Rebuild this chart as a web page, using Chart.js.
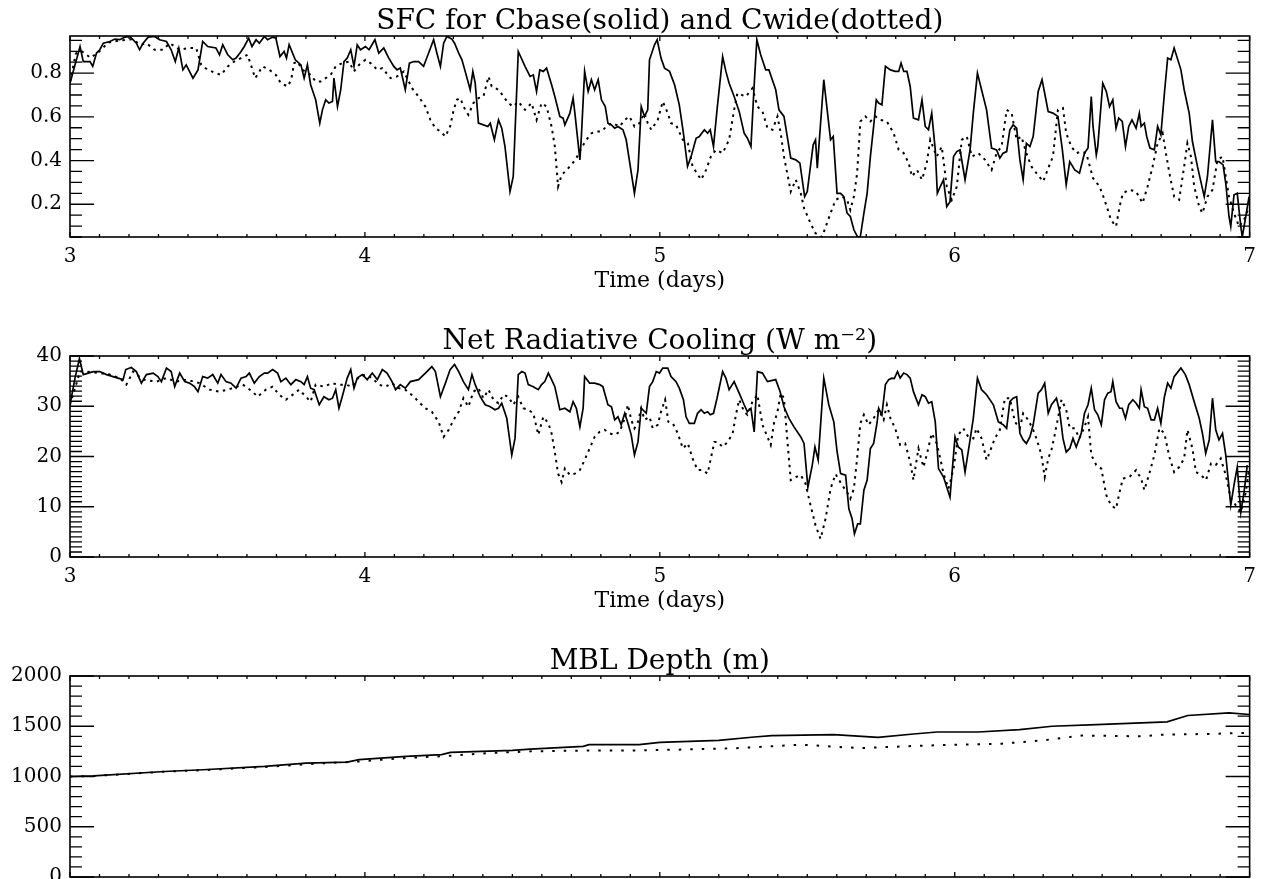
<!DOCTYPE html>
<html>
<head>
<meta charset="utf-8">
<script src="https://cdn.jsdelivr.net/npm/chart.js"></script>
<style>
  body { margin: 0; background: #fff; width: 1264px; height: 879px; overflow: hidden; position: relative; }
  canvas { position: absolute; left: 0; }
</style>
</head>
<body>
<canvas id="sfc" width="1264" height="320" style="top:0"></canvas>
<canvas id="cool" width="1264" height="320" style="top:320px"></canvas>
<canvas id="mbl" width="1264" height="320" style="top:640px"></canvas>
<script>
// tick labels
const timeTicks = [3, 4, 5, 6, 7];
const sfcTicks = [0.2, 0.4, 0.6, 0.8];
const coolTicks = [0, 10, 20, 30, 40];
const mblTicks = [0, 500, 1000, 1500, 2000];

// [time (days), value] pairs, Cbase run
const sfcCbase = [
  [3.000,0.754],[3.034,0.922],[3.045,0.853],[3.068,0.853],[3.077,0.831],[3.090,0.892],[3.101,0.907],[3.113,0.937],
  [3.135,0.945],[3.152,0.956],[3.169,0.953],[3.186,0.965],[3.203,0.968],[3.225,0.937],[3.236,0.907],[3.248,0.937],
  [3.265,0.965],[3.287,0.968],[3.304,0.953],[3.327,0.945],[3.343,0.907],[3.357,0.853],[3.369,0.915],[3.383,0.815],
  [3.394,0.838],[3.417,0.777],[3.434,0.815],[3.450,0.945],[3.467,0.922],[3.495,0.915],[3.507,0.884],[3.518,0.930],
  [3.535,0.884],[3.552,0.861],[3.563,0.869],[3.580,0.899],[3.591,0.922],[3.606,0.960],[3.617,0.922],[3.631,0.953],
  [3.642,0.937],[3.659,0.968],[3.670,0.953],[3.687,0.965],[3.698,0.960],[3.712,0.876],[3.726,0.899],[3.734,0.869],
  [3.743,0.930],[3.764,0.861],[3.783,0.838],[3.794,0.777],[3.805,0.838],[3.816,0.747],[3.833,0.678],[3.847,0.571],
  [3.856,0.632],[3.867,0.678],[3.878,0.663],[3.890,0.670],[3.895,0.777],[3.907,0.647],[3.918,0.724],[3.929,0.853],
  [3.940,0.869],[3.952,0.907],[3.963,0.831],[3.974,0.930],[3.985,0.907],[4.002,0.922],[4.014,0.907],[4.034,0.953],
  [4.047,0.892],[4.064,0.915],[4.081,0.869],[4.098,0.831],[4.109,0.815],[4.120,0.823],[4.137,0.724],[4.151,0.846],
  [4.166,0.853],[4.182,0.853],[4.199,0.831],[4.216,0.892],[4.233,0.953],[4.244,0.892],[4.256,0.831],[4.267,0.937],
  [4.278,0.968],[4.295,0.956],[4.304,0.937],[4.318,0.892],[4.329,0.861],[4.340,0.808],[4.357,0.724],[4.366,0.808],
  [4.374,0.754],[4.385,0.571],[4.402,0.563],[4.417,0.556],[4.425,0.571],[4.439,0.495],[4.453,0.586],[4.464,0.548],
  [4.475,0.464],[4.492,0.258],[4.503,0.327],[4.520,0.899],[4.543,0.831],[4.560,0.785],[4.571,0.792],[4.582,0.716],
  [4.593,0.815],[4.605,0.808],[4.616,0.823],[4.633,0.747],[4.644,0.693],[4.661,0.602],[4.672,0.594],[4.678,0.563],
  [4.695,0.617],[4.706,0.686],[4.712,0.617],[4.729,0.403],[4.734,0.510],[4.745,0.808],[4.757,0.716],[4.768,0.770],
  [4.779,0.724],[4.791,0.770],[4.802,0.678],[4.815,0.647],[4.824,0.571],[4.836,0.563],[4.847,0.548],[4.858,0.556],
  [4.875,0.541],[4.886,0.495],[4.914,0.250],[4.926,0.357],[4.937,0.647],[4.948,0.602],[4.959,0.632],[4.965,0.861],
  [4.982,0.930],[4.991,0.953],[5.004,0.869],[5.016,0.823],[5.033,0.808],[5.050,0.747],[5.066,0.655],[5.080,0.525],
  [5.094,0.373],[5.106,0.418],[5.123,0.502],[5.134,0.510],[5.151,0.541],[5.162,0.525],[5.171,0.541],[5.182,0.464],
  [5.194,0.632],[5.213,0.876],[5.224,0.808],[5.235,0.754],[5.252,0.693],[5.269,0.625],[5.286,0.525],[5.297,0.502],
  [5.309,0.464],[5.320,0.747],[5.329,0.953],[5.342,0.884],[5.359,0.815],[5.370,0.815],[5.393,0.724],[5.404,0.632],
  [5.421,0.602],[5.444,0.411],[5.461,0.403],[5.475,0.388],[5.491,0.235],[5.500,0.258],[5.520,0.472],[5.528,0.495],
  [5.534,0.365],[5.556,0.770],[5.568,0.625],[5.579,0.495],[5.588,0.510],[5.601,0.250],[5.613,0.250],[5.624,0.235],
  [5.635,0.159],[5.646,0.144],[5.658,0.083],[5.671,0.049],[5.680,0.052],[5.692,0.159],[5.703,0.250],[5.714,0.418],
  [5.725,0.556],[5.734,0.678],[5.742,0.663],[5.753,0.655],[5.765,0.831],[5.782,0.815],[5.798,0.808],[5.810,0.808],
  [5.818,0.846],[5.827,0.808],[5.838,0.808],[5.849,0.739],[5.860,0.594],[5.877,0.586],[5.889,0.678],[5.900,0.556],
  [5.911,0.541],[5.922,0.617],[5.934,0.449],[5.941,0.250],[5.951,0.281],[5.962,0.312],[5.973,0.189],[5.984,0.212],
  [5.996,0.418],[6.007,0.441],[6.018,0.449],[6.035,0.312],[6.052,0.449],[6.063,0.617],[6.077,0.800],[6.091,0.724],
  [6.108,0.632],[6.125,0.457],[6.142,0.449],[6.153,0.411],[6.164,0.434],[6.176,0.441],[6.187,0.541],[6.198,0.563],
  [6.210,0.548],[6.221,0.403],[6.232,0.312],[6.243,0.479],[6.255,0.464],[6.266,0.510],[6.283,0.716],[6.296,0.770],
  [6.305,0.708],[6.317,0.624],[6.333,0.617],[6.350,0.602],[6.365,0.449],[6.378,0.289],[6.390,0.395],[6.407,0.357],
  [6.423,0.342],[6.440,0.434],[6.452,0.457],[6.463,0.693],[6.469,0.556],[6.480,0.426],[6.485,0.464],[6.502,0.754],
  [6.514,0.716],[6.525,0.647],[6.536,0.678],[6.547,0.548],[6.556,0.594],[6.568,0.579],[6.579,0.464],[6.590,0.556],
  [6.601,0.586],[6.615,0.548],[6.626,0.617],[6.632,0.556],[6.643,0.571],[6.651,0.510],[6.662,0.457],[6.677,0.449],
  [6.688,0.556],[6.699,0.518],[6.711,0.708],[6.722,0.869],[6.733,0.861],[6.744,0.915],[6.767,0.815],[6.778,0.724],
  [6.795,0.617],[6.806,0.487],[6.823,0.373],[6.846,0.235],[6.857,0.327],[6.868,0.495],[6.874,0.586],[6.885,0.395],
  [6.896,0.395],[6.910,0.380],[6.919,0.296],[6.930,0.144],[6.936,0.098],[6.947,0.243],[6.958,0.250],[6.970,0.098],
  [6.975,0.050],[6.987,0.144],[6.998,0.235]
];

// [time (days), value] pairs, Cwide run
const sfcCwide = [
  [3.000,0.760],[3.020,0.890],[3.040,0.900],[3.070,0.870],[3.100,0.900],[3.130,0.940],[3.170,0.950],[3.210,0.955],
  [3.240,0.930],[3.259,0.937],[3.287,0.907],[3.315,0.907],[3.338,0.937],[3.372,0.907],[3.400,0.915],[3.428,0.915],
  [3.445,0.838],[3.467,0.815],[3.495,0.800],[3.512,0.792],[3.535,0.831],[3.557,0.853],[3.580,0.869],[3.602,0.884],
  [3.617,0.823],[3.628,0.777],[3.653,0.831],[3.676,0.815],[3.698,0.792],[3.715,0.754],[3.738,0.739],[3.750,0.770],
  [3.760,0.846],[3.771,0.853],[3.788,0.815],[3.816,0.792],[3.833,0.762],[3.850,0.762],[3.867,0.777],[3.884,0.792],
  [3.901,0.831],[3.923,0.846],[3.946,0.853],[3.963,0.808],[3.980,0.838],[4.002,0.861],[4.019,0.846],[4.042,0.815],
  [4.059,0.823],[4.087,0.777],[4.109,0.785],[4.132,0.808],[4.160,0.731],[4.182,0.693],[4.205,0.647],[4.222,0.586],
  [4.239,0.548],[4.256,0.533],[4.273,0.510],[4.289,0.556],[4.301,0.632],[4.312,0.678],[4.323,0.686],[4.340,0.632],
  [4.351,0.609],[4.368,0.663],[4.385,0.686],[4.402,0.693],[4.419,0.785],[4.430,0.739],[4.453,0.724],[4.470,0.693],
  [4.486,0.663],[4.503,0.647],[4.520,0.670],[4.543,0.632],[4.565,0.663],[4.582,0.586],[4.599,0.663],[4.616,0.647],
  [4.633,0.556],[4.644,0.464],[4.655,0.281],[4.667,0.334],[4.684,0.357],[4.700,0.380],[4.717,0.411],[4.734,0.457],
  [4.751,0.495],[4.768,0.525],[4.785,0.533],[4.802,0.533],[4.819,0.556],[4.836,0.571],[4.852,0.563],[4.864,0.556],
  [4.881,0.586],[4.897,0.602],[4.914,0.556],[4.931,0.571],[4.948,0.617],[4.959,0.571],[4.971,0.541],[4.993,0.586],
  [5.010,0.670],[5.027,0.617],[5.038,0.571],[5.055,0.563],[5.078,0.495],[5.095,0.479],[5.111,0.373],[5.140,0.312],
  [5.157,0.357],[5.173,0.418],[5.190,0.449],[5.213,0.434],[5.235,0.495],[5.252,0.632],[5.263,0.708],[5.292,0.693],
  [5.314,0.731],[5.331,0.647],[5.348,0.625],[5.365,0.548],[5.382,0.541],[5.399,0.602],[5.410,0.525],[5.421,0.418],
  [5.432,0.342],[5.444,0.258],[5.461,0.312],[5.478,0.250],[5.489,0.182],[5.511,0.113],[5.528,0.067],[5.550,0.050],
  [5.579,0.159],[5.596,0.220],[5.618,0.235],[5.635,0.220],[5.646,0.174],[5.658,0.235],[5.669,0.342],[5.680,0.579],
  [5.697,0.602],[5.714,0.579],[5.731,0.602],[5.748,0.586],[5.770,0.579],[5.793,0.525],[5.810,0.449],[5.827,0.434],
  [5.844,0.388],[5.855,0.327],[5.872,0.357],[5.889,0.312],[5.905,0.388],[5.917,0.495],[5.939,0.418],[5.956,0.464],
  [5.973,0.281],[5.990,0.220],[6.007,0.281],[6.024,0.495],[6.041,0.510],[6.058,0.418],[6.080,0.434],[6.103,0.403],
  [6.125,0.357],[6.142,0.434],[6.159,0.464],[6.176,0.632],[6.193,0.617],[6.210,0.495],[6.226,0.510],[6.243,0.434],
  [6.260,0.373],[6.277,0.342],[6.300,0.304],[6.317,0.365],[6.333,0.418],[6.350,0.632],[6.367,0.640],[6.378,0.525],
  [6.395,0.464],[6.412,0.434],[6.429,0.441],[6.446,0.434],[6.469,0.319],[6.491,0.281],[6.508,0.220],[6.530,0.128],
  [6.547,0.098],[6.559,0.189],[6.570,0.250],[6.592,0.266],[6.615,0.258],[6.637,0.205],[6.654,0.281],[6.671,0.373],
  [6.688,0.479],[6.705,0.525],[6.716,0.434],[6.728,0.342],[6.744,0.235],[6.761,0.220],[6.778,0.373],[6.789,0.479],
  [6.801,0.418],[6.812,0.281],[6.829,0.189],[6.840,0.159],[6.857,0.235],[6.874,0.266],[6.891,0.403],[6.908,0.418],
  [6.930,0.235],[6.947,0.159],[6.964,0.098],[6.981,0.128],[6.998,0.189]
];

const coolCbase = [
  [3.000,30.3],[3.017,35.6],[3.032,39.5],[3.045,36.3],[3.062,36.6],[3.079,36.9],[3.101,36.9],[3.124,36.3],
  [3.146,35.9],[3.163,35.6],[3.180,35.3],[3.189,37.3],[3.208,37.7],[3.225,36.9],[3.242,34.6],[3.259,36.3],
  [3.282,36.6],[3.298,35.9],[3.310,34.9],[3.327,37.6],[3.343,36.9],[3.355,33.9],[3.372,36.6],[3.389,34.9],
  [3.405,34.6],[3.422,33.9],[3.434,32.9],[3.450,35.9],[3.467,35.6],[3.484,36.3],[3.501,34.6],[3.512,36.3],
  [3.529,34.9],[3.546,34.6],[3.563,33.6],[3.580,35.6],[3.597,35.9],[3.608,36.6],[3.625,34.6],[3.642,35.9],
  [3.659,36.6],[3.670,36.6],[3.687,37.3],[3.704,36.6],[3.715,34.9],[3.732,35.6],[3.749,34.3],[3.766,35.3],
  [3.783,34.9],[3.794,34.3],[3.805,35.9],[3.816,33.6],[3.828,33.3],[3.845,30.3],[3.861,31.9],[3.878,31.3],
  [3.890,31.6],[3.901,33.3],[3.912,29.6],[3.923,31.9],[3.940,35.6],[3.952,37.3],[3.963,33.6],[3.974,35.6],
  [3.991,36.3],[4.008,35.3],[4.025,36.6],[4.042,35.3],[4.059,37.3],[4.075,36.6],[4.092,34.9],[4.104,33.3],
  [4.120,34.3],[4.137,33.6],[4.154,34.9],[4.182,35.3],[4.205,36.6],[4.227,37.9],[4.239,36.9],[4.256,31.9],
  [4.273,34.6],[4.289,37.3],[4.304,38.3],[4.318,36.9],[4.334,34.9],[4.351,33.3],[4.363,36.3],[4.374,34.3],
  [4.391,31.9],[4.408,30.3],[4.425,29.9],[4.441,29.3],[4.453,29.6],[4.464,30.6],[4.481,27.6],[4.498,20.3],
  [4.509,23.6],[4.520,36.3],[4.532,36.9],[4.543,36.6],[4.554,34.3],[4.571,33.9],[4.588,33.3],[4.599,34.3],
  [4.610,34.9],[4.622,36.6],[4.633,35.3],[4.644,33.9],[4.661,29.3],[4.678,29.6],[4.695,28.9],[4.706,30.9],
  [4.717,29.6],[4.729,25.9],[4.740,29.6],[4.745,35.9],[4.762,34.6],[4.779,34.6],[4.796,34.3],[4.807,33.9],
  [4.824,30.3],[4.836,29.9],[4.847,27.3],[4.858,27.9],[4.869,26.3],[4.881,28.6],[4.892,26.6],[4.903,24.3],
  [4.914,20.3],[4.926,22.9],[4.937,29.6],[4.954,28.6],[4.965,33.9],[4.976,34.9],[4.988,36.9],[4.999,36.6],
  [5.010,37.6],[5.027,37.6],[5.038,35.9],[5.055,34.9],[5.066,33.6],[5.080,31.3],[5.089,27.9],[5.100,26.6],
  [5.117,26.6],[5.128,28.6],[5.140,29.3],[5.151,28.6],[5.162,28.9],[5.171,28.3],[5.182,28.6],[5.194,31.6],
  [5.213,36.9],[5.224,35.6],[5.235,33.3],[5.252,34.9],[5.269,32.6],[5.286,30.3],[5.297,28.9],[5.309,29.6],
  [5.320,24.9],[5.331,36.9],[5.348,36.6],[5.365,34.9],[5.393,35.3],[5.408,32.9],[5.421,29.9],[5.438,27.6],
  [5.455,25.9],[5.478,23.9],[5.489,22.6],[5.502,13.9],[5.517,18.3],[5.526,21.9],[5.537,19.3],[5.556,35.6],
  [5.573,30.3],[5.590,26.9],[5.601,21.0],[5.613,16.6],[5.630,16.3],[5.641,9.6],[5.652,7.6],[5.660,4.6],
  [5.671,6.6],[5.680,6.6],[5.692,13.3],[5.703,15.3],[5.714,21.6],[5.725,22.6],[5.737,26.9],[5.742,29.6],
  [5.753,28.3],[5.765,34.3],[5.776,35.3],[5.787,35.6],[5.795,35.5],[5.806,36.9],[5.815,35.6],[5.827,36.6],
  [5.838,36.3],[5.849,35.6],[5.860,32.9],[5.877,30.3],[5.889,32.3],[5.900,31.9],[5.911,30.6],[5.922,30.9],
  [5.934,26.9],[5.945,17.6],[5.962,15.9],[5.984,11.9],[6.001,23.9],[6.012,21.9],[6.024,21.3],[6.035,16.9],
  [6.052,23.3],[6.063,27.6],[6.077,35.6],[6.091,33.3],[6.108,32.3],[6.131,30.3],[6.148,26.9],[6.165,26.3],
  [6.176,25.6],[6.187,30.9],[6.198,31.6],[6.210,31.9],[6.221,24.6],[6.232,23.3],[6.243,22.6],[6.255,23.9],
  [6.266,26.3],[6.283,32.6],[6.294,33.3],[6.305,34.6],[6.317,28.6],[6.328,30.3],[6.345,31.6],[6.356,28.9],
  [6.367,23.6],[6.378,20.9],[6.390,21.6],[6.401,23.6],[6.412,21.9],[6.429,24.6],[6.440,28.6],[6.452,30.3],
  [6.463,33.6],[6.474,29.3],[6.485,28.3],[6.497,26.3],[6.508,31.3],[6.519,32.6],[6.530,32.9],[6.536,34.9],
  [6.547,30.9],[6.559,29.6],[6.568,29.6],[6.579,27.6],[6.590,30.3],[6.604,31.3],[6.615,30.6],[6.626,29.6],
  [6.632,33.3],[6.643,29.9],[6.654,29.6],[6.666,27.3],[6.677,27.3],[6.688,29.6],[6.699,26.6],[6.711,31.9],
  [6.722,34.6],[6.733,33.6],[6.744,35.9],[6.767,37.6],[6.782,36.3],[6.795,34.3],[6.812,30.9],[6.829,27.6],
  [6.840,24.6],[6.851,20.6],[6.863,23.3],[6.874,31.6],[6.885,25.3],[6.896,23.3],[6.908,24.6],[6.919,20.3],
  [6.936,10.3],[6.947,14.3],[6.958,17.9],[6.970,8.9],[6.981,12.9],[6.992,18.3]
];

const coolCwide = [
  [3.000,30.3],[3.034,36.9],[3.056,36.9],[3.101,36.6],[3.135,36.3],[3.169,35.6],[3.191,34.3],[3.214,36.9],
  [3.248,35.3],[3.293,34.9],[3.327,35.6],[3.360,34.9],[3.394,35.3],[3.439,34.6],[3.473,33.3],[3.507,32.9],
  [3.552,33.6],[3.586,34.3],[3.619,32.9],[3.636,31.9],[3.664,33.3],[3.687,33.9],[3.709,32.3],[3.732,31.3],
  [3.755,32.3],[3.777,33.3],[3.800,31.9],[3.816,30.9],[3.833,34.3],[3.861,33.9],[3.890,34.6],[3.907,34.3],
  [3.935,34.3],[3.957,33.9],[3.980,35.9],[4.002,36.3],[4.025,35.6],[4.047,34.3],[4.070,33.9],[4.092,34.6],
  [4.115,33.6],[4.137,33.3],[4.166,31.9],[4.182,30.9],[4.205,29.6],[4.227,28.9],[4.250,26.9],[4.267,23.9],
  [4.284,25.3],[4.301,27.3],[4.318,28.9],[4.334,31.6],[4.351,29.9],[4.368,32.9],[4.385,33.6],[4.402,31.6],
  [4.419,33.3],[4.436,31.3],[4.453,30.6],[4.470,32.3],[4.486,31.9],[4.503,30.3],[4.520,31.9],[4.537,29.6],
  [4.554,29.3],[4.571,28.6],[4.588,24.3],[4.605,27.9],[4.622,26.6],[4.633,24.6],[4.644,20.9],[4.655,16.6],
  [4.667,14.9],[4.678,17.6],[4.695,16.3],[4.712,16.6],[4.729,17.3],[4.745,19.3],[4.762,21.6],[4.779,23.9],
  [4.796,24.9],[4.813,25.3],[4.830,24.6],[4.847,24.3],[4.864,24.9],[4.881,27.6],[4.892,30.3],[4.903,27.3],
  [4.914,25.6],[4.926,26.9],[4.937,29.6],[4.948,27.3],[4.965,27.9],[4.976,25.6],[4.993,26.3],[5.004,28.9],
  [5.018,31.3],[5.029,26.9],[5.044,26.6],[5.061,24.6],[5.078,21.6],[5.095,22.6],[5.111,19.6],[5.128,17.3],
  [5.145,17.3],[5.162,16.6],[5.173,19.6],[5.185,22.9],[5.196,22.9],[5.213,21.9],[5.230,22.9],[5.247,24.6],
  [5.258,28.3],[5.269,31.3],[5.286,28.9],[5.297,28.3],[5.314,30.9],[5.331,32.3],[5.348,26.3],[5.365,23.9],
  [5.376,22.3],[5.387,26.6],[5.399,28.9],[5.410,32.6],[5.421,31.6],[5.432,23.6],[5.444,15.3],[5.461,15.9],
  [5.478,16.3],[5.494,14.6],[5.511,10.3],[5.528,6.3],[5.545,3.6],[5.562,7.6],[5.579,13.6],[5.596,16.5],
  [5.618,14.3],[5.635,12.9],[5.646,11.6],[5.658,13.6],[5.669,19.6],[5.680,26.6],[5.692,28.3],[5.708,26.3],
  [5.725,27.6],[5.742,29.3],[5.759,27.3],[5.770,30.3],[5.782,27.6],[5.798,25.6],[5.815,22.3],[5.832,22.6],
  [5.849,18.9],[5.860,15.3],[5.877,21.6],[5.894,17.9],[5.905,20.3],[5.922,24.6],[5.939,22.6],[5.951,19.6],
  [5.962,16.6],[5.979,13.6],[5.996,17.6],[6.012,24.3],[6.029,25.6],[6.046,23.9],[6.063,23.6],[6.074,25.6],
  [6.091,23.6],[6.108,19.3],[6.119,20.9],[6.136,23.6],[6.153,25.3],[6.170,31.6],[6.187,31.6],[6.204,26.9],
  [6.221,25.6],[6.232,28.6],[6.249,27.3],[6.266,25.3],[6.277,23.6],[6.294,20.3],[6.305,15.9],[6.317,19.6],
  [6.328,21.3],[6.339,24.3],[6.350,27.6],[6.362,31.3],[6.378,29.3],[6.390,25.6],[6.407,25.6],[6.423,23.6],
  [6.440,25.9],[6.452,27.9],[6.463,20.3],[6.480,18.3],[6.497,17.6],[6.514,12.3],[6.530,10.3],[6.547,9.6],
  [6.559,12.9],[6.570,15.6],[6.592,15.9],[6.615,17.3],[6.632,15.6],[6.643,13.3],[6.660,16.6],[6.677,20.3],
  [6.694,25.6],[6.711,24.6],[6.728,19.9],[6.744,16.9],[6.761,17.9],[6.778,19.6],[6.789,25.3],[6.806,21.6],
  [6.818,16.9],[6.835,16.3],[6.852,15.3],[6.869,18.6],[6.885,18.3],[6.902,19.6],[6.919,16.3],[6.936,11.6],
  [6.953,10.3],[6.970,8.9],[6.987,12.9],[6.998,17.6]
];

const mblCbase = [
  [3.00,1000],[3.08,1007],[3.32,1050],[3.45,1067],[3.66,1100],[3.80,1133],[3.94,1143],[3.98,1167],
  [4.14,1200],[4.26,1217],[4.29,1240],[4.50,1260],[4.56,1273],[4.74,1300],[4.76,1317],[4.93,1318],
  [5.00,1340],[5.20,1360],[5.32,1393],[5.38,1407],[5.59,1417],[5.74,1390],[5.86,1423],[5.94,1443],
  [6.08,1443],[6.22,1467],[6.33,1500],[6.48,1517],[6.72,1543],[6.79,1607],[6.93,1633],[7.00,1617]
];

const mblCwide = [
  [3.00,1000],[3.08,1005],[3.32,1048],[3.45,1063],[3.66,1095],[3.80,1122],[3.98,1150],[4.14,1185],
  [4.28,1205],[4.42,1233],[4.56,1250],[4.69,1257],[4.93,1260],[5.06,1267],[5.27,1283],[5.48,1317],
  [5.61,1293],[5.68,1283],[5.89,1307],[6.16,1327],[6.30,1360],[6.43,1407],[6.64,1400],[6.71,1417],
  [6.85,1423],[6.98,1433],[7.00,1440]
];

Chart.defaults.font.family = "'DejaVu Serif', serif";
Chart.defaults.color = '#000';

// frame with inward ticks on all four sides, minor and major
const frameTicks = {
  id: 'frameTicks',
  afterDatasetsDraw(chart, args, opts) {
    const {ctx, chartArea: a, scales: {x, y}} = chart;
    const run = (scale, step, major, horizontal) => {
      const first = Math.ceil(scale.min / step - 1e-6);
      const last = Math.floor(scale.max / step + 1e-6);
      for (let k = first; k <= last; k++) {
        const v = k * step;
        const isMajor = Math.abs(v / major - Math.round(v / major)) < 1e-6;
        const p = scale.getPixelForValue(v);
        if (horizontal) {
          const len = isMajor ? 5 : 3;
          ctx.moveTo(p, a.bottom); ctx.lineTo(p, a.bottom - len);
          ctx.moveTo(p, a.top); ctx.lineTo(p, a.top + len);
        } else {
          const len = isMajor ? 24 : 12;
          ctx.moveTo(a.left, p); ctx.lineTo(a.left + len, p);
          ctx.moveTo(a.right, p); ctx.lineTo(a.right - len, p);
        }
      }
    };
    ctx.save();
    ctx.strokeStyle = '#000';
    ctx.lineWidth = 1.3;
    ctx.beginPath();
    run(x, 0.1, 1, true);
    run(y, opts.yMinor, opts.yMajor, false);
    ctx.stroke();
    ctx.lineWidth = 1.6;
    ctx.strokeRect(a.left, a.top, a.right - a.left, a.bottom - a.top);
    ctx.restore();
  }
};

function lineSet(pairs, dash) {
  return {
    data: pairs.map(p => ({x: p[0], y: p[1]})),
    borderColor: '#000',
    borderWidth: dash ? 2 : 1.7,
    borderDash: dash || [],
    pointRadius: 0,
    tension: 0,
    fill: false
  };
}

function panel(id, title, sets, yMin, yMax, yTicks, yMinor, yMajor) {
  new Chart(document.getElementById(id), {
    type: 'line',
    data: { datasets: sets },
    options: {
      responsive: false,
      animation: false,
      devicePixelRatio: 1,
      events: [],
      layout: { padding: { left: 0, right: 11, top: 0, bottom: 26 } },
      plugins: {
        legend: { display: false },
        tooltip: { enabled: false },
        title: {
          display: true, text: title, fullSize: false, color: '#000',
          font: { size: 28, weight: 'normal', lineHeight: 1 },
          padding: { top: 8, bottom: 0 }
        },
        frameTicks: { yMinor, yMajor }
      },
      scales: {
        x: {
          type: 'linear', min: 3, max: 7,
          grid: { display: false, drawTicks: false },
          border: { display: false },
          afterBuildTicks: s => { s.ticks = timeTicks.map(v => ({ value: v })); },
          afterFit: s => { s.height = 57; },
          ticks: { font: { size: 20 }, color: '#000', padding: 8, maxRotation: 0, autoSkip: false, callback: v => String(v) },
          title: { display: true, text: 'Time (days)', font: { size: 22 }, color: '#000', padding: 0 }
        },
        y: {
          type: 'linear', min: yMin, max: yMax,
          grid: { display: false, drawTicks: false },
          border: { display: false },
          afterBuildTicks: s => { s.ticks = yTicks.map(v => ({ value: v })); },
          afterFit: s => { s.width = 70; },
          ticks: { font: { size: 20 }, color: '#000', padding: 8, autoSkip: false, callback: v => String(v) }
        }
      }
    },
    plugins: [frameTicks]
  });
}

panel('sfc', 'SFC for Cbase(solid) and Cwide(dotted)',
  [lineSet(sfcCbase), lineSet(sfcCwide, [2.5, 4.5])], 0.05, 0.97, sfcTicks, 0.05, 0.2);
panel('cool', 'Net Radiative Cooling (W m\u207B\u00B2)',
  [lineSet(coolCbase), lineSet(coolCwide, [2.5, 4.5])], 0, 40, coolTicks, 1, 10);
panel('mbl', 'MBL Depth (m)',
  [lineSet(mblCbase), lineSet(mblCwide, [2.5, 9])], 0, 2000, mblTicks, 100, 500);
</script>
</body>
</html>
